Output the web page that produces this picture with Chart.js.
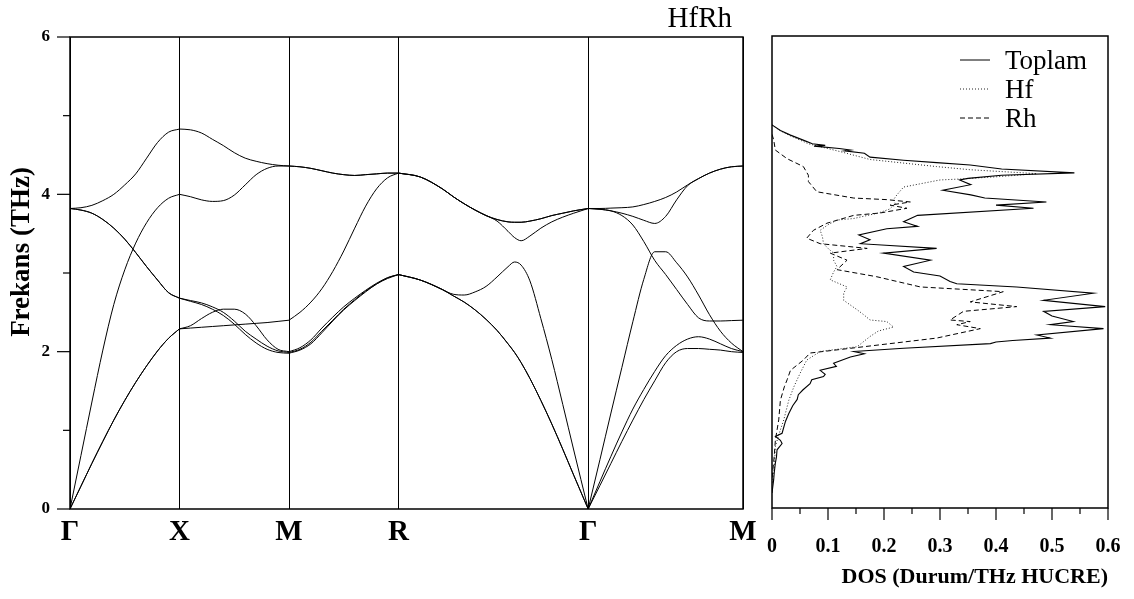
<!DOCTYPE html>
<html>
<head>
<meta charset="utf-8">
<script src="https://cdn.jsdelivr.net/npm/chart.js@4.4.1/dist/chart.umd.min.js"></script>
<style>
    html, body { margin: 0; padding: 0; background: #fff; }
    #wrap { position: relative; width: 1134px; height: 599px; overflow: hidden; }
    #bandCanvas { position: absolute; left: 0; top: 0; }
    #dosCanvas { position: absolute; left: 760px; top: 0; }
</style>
</head>
<body>
<div id="wrap">
    <canvas id="bandCanvas" width="760" height="599"></canvas>
    <canvas id="dosCanvas" width="374" height="599"></canvas>
</div>
<script>
const serif = '"Liberation Serif", "Times New Roman", serif';

// high-symmetry path (cubic lattice, units of 2pi/a)
const symLabels = ["Γ", "X", "M", "R", "Γ", "M"];
const symPoints = [0, 0.5, 1.0, 1.5, 2.366, 3.073];

// Γ - X
const kGX = [0, 0.05, 0.1, 0.15, 0.2, 0.25, 0.3, 0.35, 0.4, 0.45, 0.5];
const wGX = [
    [3.82, 3.83, 3.86, 3.92, 4.0, 4.12, 4.26, 4.46, 4.66, 4.79, 4.83],
    [3.82, 3.80, 3.76, 3.68, 3.57, 3.43, 3.26, 3.08, 2.91, 2.75, 2.68],
    [3.82, 3.80, 3.76, 3.68, 3.57, 3.43, 3.26, 3.08, 2.91, 2.75, 2.68],
    [0, 0.68, 1.36, 2.02, 2.60, 3.04, 3.38, 3.64, 3.83, 3.95, 4.0],
    [0, 0.29, 0.58, 0.86, 1.13, 1.38, 1.61, 1.82, 2.01, 2.17, 2.29],
    [0, 0.29, 0.58, 0.86, 1.13, 1.38, 1.61, 1.82, 2.01, 2.17, 2.29]
];

// X - M
const kXM = [0.5, 0.55, 0.6, 0.65, 0.7, 0.75, 0.8, 0.85, 0.9, 0.95, 1.0];
const wXM = [
    [4.83, 4.82, 4.78, 4.70, 4.62, 4.53, 4.46, 4.42, 4.39, 4.37, 4.36],
    [4.0, 3.97, 3.93, 3.91, 3.92, 3.99, 4.12, 4.25, 4.33, 4.36, 4.36],
    [2.68, 2.65, 2.62, 2.57, 2.50, 2.39, 2.26, 2.16, 2.07, 2.01, 1.99],
    [2.68, 2.64, 2.60, 2.54, 2.46, 2.35, 2.22, 2.11, 2.03, 1.99, 1.98],
    [2.29, 2.33, 2.42, 2.50, 2.54, 2.54, 2.48, 2.33, 2.15, 2.03, 2.0],
    [2.29, 2.30, 2.31, 2.32, 2.33, 2.34, 2.35, 2.36, 2.37, 2.385, 2.40]
];

// M - R
const kMR = [1.0, 1.05, 1.1, 1.15, 1.2, 1.25, 1.3, 1.35, 1.4, 1.45, 1.5];
const wMR = [
    [4.36, 4.35, 4.33, 4.30, 4.27, 4.25, 4.24, 4.25, 4.26, 4.27, 4.27],
    [4.36, 4.35, 4.33, 4.30, 4.27, 4.25, 4.24, 4.25, 4.26, 4.27, 4.27],
    [2.40, 2.50, 2.63, 2.80, 3.02, 3.28, 3.57, 3.85, 4.07, 4.21, 4.27],
    [2.0, 2.05, 2.15, 2.30, 2.44, 2.57, 2.68, 2.78, 2.87, 2.94, 2.98],
    [1.99, 2.03, 2.12, 2.26, 2.40, 2.54, 2.66, 2.77, 2.86, 2.94, 2.98],
    [1.98, 2.02, 2.10, 2.24, 2.39, 2.53, 2.65, 2.76, 2.86, 2.93, 2.98]
];

// R - Γ
const kRG = [1.5, 1.6, 1.7, 1.75, 1.8, 1.85, 1.9, 1.95, 2.0, 2.03, 2.06, 2.1, 2.15, 2.2, 2.25, 2.3, 2.366];
const wRG = [
    [4.27, 4.22, 4.07, 3.97, 3.88, 3.80, 3.73, 3.68, 3.65, 3.645, 3.645, 3.66, 3.69, 3.73, 3.76, 3.79, 3.82],
    [4.27, 4.22, 4.07, 3.97, 3.88, 3.80, 3.73, 3.68, 3.65, 3.645, 3.645, 3.66, 3.69, 3.73, 3.76, 3.79, 3.82],
    [4.27, 4.22, 4.07, 3.97, 3.88, 3.80, 3.73, 3.66, 3.53, 3.45, 3.41, 3.47, 3.57, 3.65, 3.71, 3.76, 3.82],
    [2.98, 2.91, 2.79, 2.73, 2.72, 2.76, 2.83, 2.95, 3.08, 3.14, 3.10, 2.90, 2.42, 1.90, 1.33, 0.75, 0],
    [2.98, 2.91, 2.79, 2.71, 2.63, 2.53, 2.41, 2.27, 2.10, 1.99, 1.86, 1.66, 1.38, 1.08, 0.76, 0.43, 0],
    [2.98, 2.91, 2.79, 2.71, 2.63, 2.53, 2.41, 2.27, 2.10, 1.99, 1.86, 1.66, 1.38, 1.08, 0.76, 0.43, 0]
];

// Γ - M
const kGM = [2.366, 2.42, 2.47, 2.52, 2.57, 2.62, 2.67, 2.72, 2.77, 2.82, 2.87, 2.92, 2.97, 3.02, 3.073];
const wGM = [
    [3.82, 3.82, 3.825, 3.83, 3.84, 3.87, 3.91, 3.96, 4.03, 4.12, 4.20, 4.27, 4.32, 4.35, 4.36],
    [3.82, 3.81, 3.79, 3.76, 3.72, 3.67, 3.63, 3.72, 3.93, 4.11, 4.20, 4.27, 4.32, 4.35, 4.36],
    [3.82, 3.81, 3.79, 3.73, 3.61, 3.40, 3.16, 2.98, 2.79, 2.60, 2.43, 2.39, 2.39, 2.395, 2.40],
    [0, 0.63, 1.22, 1.80, 2.38, 2.92, 3.27, 3.27, 3.13, 2.95, 2.72, 2.47, 2.26, 2.11, 2.0],
    [0, 0.35, 0.67, 0.98, 1.27, 1.52, 1.75, 1.95, 2.08, 2.16, 2.19, 2.16, 2.10, 2.04, 2.0],
    [0, 0.30, 0.58, 0.86, 1.13, 1.39, 1.63, 1.86, 2.0, 2.04, 2.04, 2.03, 2.02, 2.0, 1.99]
];

// phonon DOS (states/THz cell) vs frequency (THz)
const toplamFreq = [4.87, 4.80, 4.74, 4.67, 4.63, 4.61, 4.60, 4.57, 4.55, 4.54, 4.51, 4.46, 4.42, 4.39, 4.36, 4.31, 4.26, 4.23, 4.19, 4.17, 4.11, 4.04, 3.98, 3.94, 3.89, 3.85, 3.81, 3.72, 3.64, 3.58, 3.55, 3.47, 3.41, 3.36, 3.30, 3.24, 3.15, 3.07, 3.00, 2.95, 2.88, 2.85, 2.81, 2.73, 2.64, 2.56, 2.50, 2.44, 2.37, 2.33, 2.28, 2.20, 2.16, 2.13, 2.11, 2.09, 2.03, 1.99, 1.96, 1.92, 1.84, 1.80, 1.75, 1.70, 1.67, 1.63, 1.58, 1.50, 1.44, 1.38, 1.30, 1.20, 1.10, 0.95, 0.91, 0.86, 0.82, 0.74, 0.65, 0.57, 0.45, 0.36, 0.19];
const toplamDos = [0.0, 0.015, 0.033, 0.058, 0.072, 0.095, 0.075, 0.12, 0.14, 0.13, 0.165, 0.175, 0.235, 0.294, 0.354, 0.41, 0.54, 0.41, 0.35, 0.335, 0.355, 0.305, 0.355, 0.38, 0.49, 0.40, 0.467, 0.26, 0.235, 0.26, 0.205, 0.155, 0.175, 0.158, 0.294, 0.199, 0.283, 0.235, 0.253, 0.30, 0.318, 0.33, 0.437, 0.574, 0.485, 0.595, 0.485, 0.50, 0.538, 0.497, 0.592, 0.473, 0.497, 0.43, 0.40, 0.39, 0.235, 0.146, 0.165, 0.14, 0.11, 0.115, 0.086, 0.095, 0.092, 0.071, 0.068, 0.055, 0.047, 0.045, 0.037, 0.03, 0.024, 0.018, 0.006, 0.015, 0.018, 0.009, 0.008, 0.006, 0.004, 0.003, 0.0];

const hfFreq = [4.87, 4.80, 4.74, 4.63, 4.53, 4.43, 4.34, 4.30, 4.25, 4.21, 4.18, 4.17, 4.08, 3.98, 3.92, 3.87, 3.80, 3.75, 3.68, 3.66, 3.60, 3.53, 3.45, 3.36, 3.30, 3.24, 3.15, 3.07, 3.00, 2.90, 2.81, 2.73, 2.64, 2.58, 2.52, 2.45, 2.39, 2.37, 2.30, 2.25, 2.18, 2.05, 1.99, 1.88, 1.71, 1.54, 1.37, 1.12, 0.93, 0.78, 0.50, 0.30];
const hfDos = [0.0, 0.014, 0.03, 0.065, 0.122, 0.175, 0.294, 0.354, 0.473, 0.40, 0.33, 0.30, 0.235, 0.223, 0.217, 0.22, 0.21, 0.19, 0.146, 0.116, 0.10, 0.086, 0.09, 0.092, 0.10, 0.11, 0.11, 0.116, 0.11, 0.104, 0.134, 0.128, 0.128, 0.14, 0.152, 0.165, 0.175, 0.205, 0.217, 0.19, 0.175, 0.152, 0.086, 0.062, 0.05, 0.039, 0.03, 0.021, 0.012, 0.006, 0.004, 0.0];

const rhFreq = [4.75, 4.68, 4.55, 4.44, 4.34, 4.23, 4.15, 4.02, 3.94, 3.92, 3.89, 3.85, 3.81, 3.75, 3.72, 3.62, 3.53, 3.43, 3.36, 3.30, 3.24, 3.15, 3.03, 2.94, 2.81, 2.75, 2.62, 2.56, 2.50, 2.39, 2.37, 2.33, 2.28, 2.16, 2.11, 2.03, 1.97, 1.88, 1.75, 1.63, 1.54, 1.37, 1.12, 0.86, 0.66, 0.37];
const rhDos = [0.0, 0.003, 0.006, 0.027, 0.056, 0.065, 0.065, 0.08, 0.146, 0.205, 0.247, 0.211, 0.241, 0.193, 0.146, 0.098, 0.074, 0.062, 0.086, 0.17, 0.104, 0.134, 0.116, 0.187, 0.265, 0.413, 0.354, 0.437, 0.342, 0.318, 0.354, 0.33, 0.372, 0.294, 0.235, 0.14, 0.068, 0.056, 0.033, 0.027, 0.022, 0.015, 0.012, 0.006, 0.004, 0.0];

// box round the plot area
const frame = {
    id: "frame",
    afterDraw(chart) {
        const { ctx, chartArea: a } = chart;
        ctx.save();
        ctx.strokeStyle = "#000";
        ctx.lineWidth = 1.5;
        ctx.strokeRect(a.left, a.top, a.right - a.left, a.bottom - a.top);
        ctx.restore();
    },
};

// long/short tick marks outside the axis
const tickMarks = {
    id: "tickMarks",
    afterDraw(chart, args, opts) {
        const s = chart.scales[opts.axis];
        const ctx = chart.ctx;
        const a = chart.chartArea;
        ctx.save();
        ctx.strokeStyle = "#000";
        ctx.lineWidth = 1.2;
        s.ticks.forEach((t) => {
            const q = t.value / opts.major;
            const len = Math.abs(q - Math.round(q)) < 1e-6 ? opts.majorLen : opts.minorLen;
            const p = s.getPixelForValue(t.value);
            ctx.beginPath();
            if (opts.axis === "y") {
                ctx.moveTo(a.left - len, p);
                ctx.lineTo(a.left, p);
            } else {
                ctx.moveTo(p, a.bottom);
                ctx.lineTo(p, a.bottom + len);
            }
            ctx.stroke();
        });
        ctx.restore();
    },
};

// compound name and rotated y title
const bandText = {
    id: "bandText",
    afterDraw(chart) {
        const { ctx, chartArea: a } = chart;
        ctx.save();
        ctx.fillStyle = "#000";
        ctx.font = "29px " + serif;
        ctx.textAlign = "right";
        ctx.textBaseline = "alphabetic";
        ctx.fillText("HfRh", a.right - 11, 27);
        ctx.translate(22, 252);
        ctx.rotate(-Math.PI / 2);
        ctx.font = "bold 27px " + serif;
        ctx.textAlign = "center";
        ctx.textBaseline = "middle";
        ctx.fillText("Frekans (THz)", 0, 0);
        ctx.restore();
    },
};

// line-style legend in the top right corner
const lineLegend = {
    id: "lineLegend",
    afterDraw(chart, args, opts) {
        const { ctx, chartArea: a } = chart;
        ctx.save();
        ctx.font = opts.font;
        ctx.textAlign = "left";
        ctx.textBaseline = "alphabetic";
        chart.data.datasets.forEach((ds, i) => {
            const y = a.top + opts.top + i * opts.row;
            ctx.strokeStyle = ds.borderColor;
            ctx.lineWidth = 1;
            ctx.setLineDash(ds.borderDash || []);
            ctx.beginPath();
            ctx.moveTo(a.right - 148, y);
            ctx.lineTo(a.right - 118, y);
            ctx.stroke();
            ctx.setLineDash([]);
            ctx.fillStyle = "#000";
            ctx.fillText(ds.label, a.right - 103, y + 9);
        });
        ctx.restore();
    },
};

const segments = [[kGX, wGX], [kXM, wXM], [kMR, wMR], [kRG, wRG], [kGM, wGM]];
const bandSets = [];
segments.forEach(([k, w]) => {
    w.forEach((branch) => {
        bandSets.push({
            data: k.map((x, i) => ({ x: x, y: branch[i] })),
            borderColor: "#000",
            borderWidth: 1,
            pointRadius: 0,
            cubicInterpolationMode: "monotone",
            fill: false,
        });
    });
});

new Chart(document.getElementById("bandCanvas"), {
    type: "line",
    data: { datasets: bandSets },
    options: {
        responsive: false,
        animation: false,
        devicePixelRatio: 1,
        layout: { padding: { top: 37, right: 17, left: 0, bottom: 0 } },
        plugins: {
            legend: { display: false },
            tooltip: { enabled: false },
            tickMarks: { axis: "y", major: 2, majorLen: 13, minorLen: 7 },
        },
        scales: {
            x: {
                type: "linear",
                min: 0,
                max: 3.073,
                afterBuildTicks: (s) => {
                    s.ticks = symPoints.map((v) => ({ value: v }));
                },
                afterFit: (s) => {
                    s.height = 90;
                },
                ticks: {
                    callback: (v, i) => symLabels[i],
                    autoSkip: false,
                    maxRotation: 0,
                    padding: 1,
                    color: "#000",
                    font: { family: serif, size: 29, weight: "bold" },
                },
                // invisible tick marks just push the labels down
                grid: { color: "#000", lineWidth: 1, drawTicks: true, tickLength: 5, tickColor: "rgba(0,0,0,0)" },
                border: { display: false },
            },
            y: {
                min: 0,
                max: 6,
                afterFit: (s) => {
                    s.width = 70;
                },
                ticks: {
                    stepSize: 1,
                    callback: (v) => (v % 2 === 0 ? String(v) : ""),
                    padding: 20,
                    color: "#000",
                    font: { family: serif, size: 17, weight: "bold" },
                },
                grid: { display: false, drawTicks: false },
                border: { display: false },
            },
        },
    },
    plugins: [frame, tickMarks, bandText],
});

new Chart(document.getElementById("dosCanvas"), {
    type: "scatter",
    data: {
        datasets: [
            {
                label: "Toplam",
                data: toplamDos.map((x, i) => ({ x: x, y: toplamFreq[i] })),
                showLine: true,
                borderColor: "#000",
                borderWidth: 1.1,
                borderDash: [],
                pointRadius: 0,
            },
            {
                label: "Hf",
                data: hfDos.map((x, i) => ({ x: x, y: hfFreq[i] })),
                showLine: true,
                borderColor: "#222",
                borderWidth: 1,
                borderDash: [1, 2],
                pointRadius: 0,
            },
            {
                label: "Rh",
                data: rhDos.map((x, i) => ({ x: x, y: rhFreq[i] })),
                showLine: true,
                borderColor: "#000",
                borderWidth: 1,
                borderDash: [5, 3],
                pointRadius: 0,
            },
        ],
    },
    options: {
        responsive: false,
        animation: false,
        devicePixelRatio: 1,
        layout: { padding: { top: 36, right: 26, left: 12, bottom: 0 } },
        plugins: {
            legend: { display: false },
            tooltip: { enabled: false },
            tickMarks: { axis: "x", major: 0.1, majorLen: 12, minorLen: 6 },
            lineLegend: { font: "27px " + serif, top: 24, row: 29 },
        },
        scales: {
            x: {
                type: "linear",
                min: 0,
                max: 0.6,
                afterFit: (s) => {
                    s.height = 91;
                },
                ticks: {
                    stepSize: 0.05,
                    autoSkip: false,
                    maxRotation: 0,
                    padding: 0,
                    color: "#000",
                    font: { family: serif, size: 20, weight: "bold" },
                    callback: (v) => {
                        const r = Math.round(v * 100);
                        if (r % 10 !== 0) return "";
                        return r === 0 ? "0" : (r / 100).toFixed(1);
                    },
                },
                // grid hidden; tick length only pushes the labels down
                grid: { display: false, drawTicks: true, tickLength: 27 },
                border: { display: false },
                title: {
                    display: true,
                    text: "DOS (Durum/THz HUCRE)",
                    align: "end",
                    color: "#000",
                    font: { family: serif, size: 22, weight: "bold" },
                    padding: { top: 0, bottom: 8 },
                },
            },
            y: { display: false, min: 0, max: 6 },
        },
    },
    plugins: [frame, tickMarks, lineLegend],
});
</script>
</body>
</html>
